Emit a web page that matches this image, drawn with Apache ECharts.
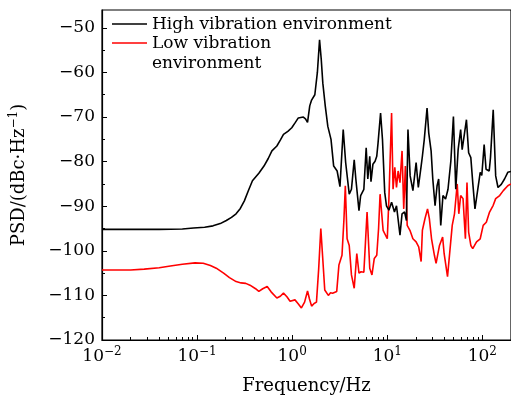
<!DOCTYPE html>
<html>
<head>
<meta charset="utf-8">
<script src="https://cdn.jsdelivr.net/npm/echarts@6/dist/echarts.min.js"></script>
<style>
  html, body { margin: 0; padding: 0; background: #fff; }
  #chart { width: 511px; height: 400px; }
</style>
</head>
<body>
<div id="chart"></div>
<script>
// Power spectral density in two vibration environments
const highFreq = [0.01, 0.02, 0.04, 0.07, 0.0917, 0.12, 0.147, 0.175, 0.203, 0.23, 0.257, 0.285, 0.314, 0.345, 0.382, 0.446, 0.505, 0.56, 0.612, 0.69, 0.75, 0.81, 0.9, 0.99, 1.08, 1.16, 1.31, 1.38, 1.45, 1.53, 1.6, 1.73, 1.84, 1.94, 2.02, 2.1, 2.23, 2.37, 2.56, 2.73, 2.97, 3.18, 3.44, 3.65, 3.98, 4.2, 4.49, 4.67, 5.04, 5.25, 5.45, 5.67, 6.0, 6.24, 6.54, 6.74, 7.06, 7.44, 7.75, 8.0, 8.5, 8.9, 9.4, 9.8, 10.4, 11.1, 11.9, 12.5, 13.6, 14.3, 15.2, 15.9, 16.5, 17.4, 18.6, 20.1, 21.2, 22.7, 23.4, 24.5, 26.2, 27.3, 28.9, 30.1, 31.8, 33.4, 34.7, 36.5, 38.5, 41, 43.5, 46.6, 49.6, 52.5, 55.6, 59.1, 61.3, 64.9, 68, 71.7, 75.6, 79.2, 83.6, 86.8, 94.9, 98.6, 104.4, 109.3, 118, 121.7, 130, 138, 146, 158, 171, 185, 200];
const highPsd = [-95.2, -95.2, -95.2, -95.1, -94.9, -94.7, -94.4, -93.9, -93.2, -92.5, -91.7, -90.5, -88.8, -86.6, -84.3, -82.6, -81.0, -79.3, -77.6, -76.5, -75.2, -73.9, -73.2, -72.4, -71.2, -70.2, -70.0, -70.4, -71.2, -67.5, -66.2, -65.0, -60.0, -52.7, -57.0, -62.4, -67.6, -72.1, -75.0, -81.0, -82.1, -85.6, -72.8, -80.2, -87.3, -86.2, -79.6, -83.9, -91.0, -87.6, -87.6, -86.2, -76.9, -83.9, -78.8, -84.5, -80.6, -79.9, -78.8, -75.8, -69.1, -75.0, -86.9, -89.9, -90.9, -89.1, -91.3, -89.9, -96.5, -91.7, -91.3, -93.2, -72.8, -83.2, -86.5, -80.2, -85.8, -81.0, -78.8, -75.0, -68.0, -73.6, -77.6, -83.9, -89.9, -85.4, -83.9, -94.3, -87.6, -88.4, -86.2, -79.9, -69.9, -86.2, -77.3, -72.8, -77.3, -73.6, -70.6, -78.0, -79.1, -84.7, -90.6, -90.6, -82.4, -83.1, -76.2, -81.7, -82.1, -79.1, -68.4, -83.2, -85.8, -85.1, -83.9, -82.4, -82.2];

const lowFreq = [0.01, 0.02, 0.0278, 0.04, 0.0524, 0.07, 0.095, 0.116, 0.138, 0.159, 0.19, 0.219, 0.257, 0.29, 0.325, 0.36, 0.412, 0.446, 0.49, 0.546, 0.6, 0.69, 0.75, 0.81, 0.88, 0.95, 1.07, 1.15, 1.25, 1.35, 1.45, 1.52, 1.6, 1.7, 1.8, 1.9, 2.0, 2.1, 2.2, 2.4, 2.53, 2.66, 2.76, 2.94, 3.1, 3.34, 3.5, 3.62, 3.78, 3.98, 4.2, 4.49, 4.78, 5.04, 5.3, 5.67, 5.9, 6.13, 6.54, 6.9, 7.3, 7.75, 8.1, 8.4, 9.04, 9.4, 10.0, 10.4, 11.1, 11.5, 12.0, 12.5, 13.0, 13.6, 14.3, 14.9, 15.5, 16.2, 17.3, 18.6, 20.1, 21.4, 22.7, 23.4, 24.9, 26.5, 27.7, 29.2, 31.3, 32.6, 35.4, 38.2, 39.6, 43, 48.2, 50.9, 54.4, 56.5, 59.1, 62.6, 66.3, 68.9, 71.7, 75.6, 79.2, 86.8, 94.9, 102, 110, 119, 130, 138, 152, 166, 185, 200];
const lowPsd = [-104.3, -104.3, -104.1, -103.8, -103.4, -103.0, -102.7, -102.8, -103.3, -103.9, -105.0, -106.0, -106.9, -107.2, -107.3, -107.7, -108.5, -109.1, -108.5, -108.0, -109.2, -110.6, -110.2, -109.5, -110.3, -111.3, -111.0, -111.8, -112.8, -111.5, -109.0, -110.8, -112.4, -111.8, -111.5, -104.0, -95.0, -102.0, -108.8, -110.0, -109.4, -109.5, -109.1, -109.1, -103.2, -101.0, -93.0, -85.4, -97.3, -98.8, -105.4, -108.4, -100.6, -105.0, -104.7, -104.8, -98.0, -91.3, -103.9, -105.4, -101.7, -101.0, -95.0, -87.3, -95.4, -95.8, -97.3, -88.4, -69.1, -86.2, -81.3, -85.8, -82.1, -84.7, -77.6, -90.6, -81.0, -94.3, -95.4, -97.3, -98.0, -99.1, -102.4, -95.4, -92.8, -90.6, -92.8, -97.3, -101.0, -102.8, -98.8, -96.9, -100.6, -105.8, -94.3, -91.7, -85.0, -91.7, -87.6, -88.3, -97.3, -84.7, -95.8, -98.8, -99.5, -98.0, -97.3, -94.3, -93.6, -91.3, -89.8, -88.3, -87.6, -86.5, -85.4, -85.0];

const seriesNames = ['High vibration environment', 'Low vibration\nenvironment'];
const seriesColors = ['#000000', '#ff0000'];
const xMajorTicks = [0.01, 0.1, 1, 10, 100];
const xMinorTicks = [0.02, 0.03, 0.04, 0.05, 0.06, 0.07, 0.08, 0.09,
                     0.2, 0.3, 0.4, 0.5, 0.6, 0.7, 0.8, 0.9,
                     2, 3, 4, 5, 6, 7, 8, 9,
                     20, 30, 40, 50, 60, 70, 80, 90];
const yMajorTicks = [-120, -110, -100, -90, -80, -70, -60, -50];
const yMinorTicks = [-115, -105, -95, -85, -75, -65, -55];

const FONT = '"DejaVu Serif", "Liberation Serif", serif';
const MINUS = '\u2212';

function pairs(xs, ys) {
  return xs.map((x, i) => [x, ys[i]]);
}

const chart = echarts.init(document.getElementById('chart'), null, { renderer: 'canvas' });

const xRange = { min: 0.01, max: 200 };
const yRange = { min: -120, max: -46 };

// Key in the upper-left corner of the plot: a line sample followed by its label
const keyLeft = 112, keyLineLen = 35, keyRows = [24, 43];
const keyItems = [];
seriesNames.forEach((name, i) => {
  keyItems.push({
    type: 'line', silent: true,
    shape: { x1: keyLeft, y1: keyRows[i], x2: keyLeft + keyLineLen, y2: keyRows[i] },
    style: { stroke: seriesColors[i], lineWidth: 1.6 }
  });
  keyItems.push({
    type: 'text', silent: true,
    x: keyLeft + keyLineLen + 5, y: keyRows[i] - 9,
    style: {
      text: name, fill: '#000', font: '17px ' + FONT,
      lineHeight: 20, verticalAlign: 'top', align: 'left'
    }
  });
});

chart.setOption({
  animation: false,
  backgroundColor: '#fff',
  textStyle: { fontFamily: FONT, color: '#000' },
  grid: {
    left: 97, top: 10, right: -2, bottom: 58,
    show: true, borderColor: '#000', borderWidth: 1.2, backgroundColor: 'transparent'
  },
  graphic: keyItems,
  xAxis: [
    {
      type: 'log', logBase: 10, min: xRange.min, max: xRange.max,
      name: 'Frequency/Hz', nameLocation: 'middle', nameGap: 37,
      nameTextStyle: { fontFamily: FONT, fontSize: 18, color: '#000' },
      axisLine: { show: true, lineStyle: { color: '#000', width: 1.2 } },
      axisTick: { show: true, inside: true, length: 5, customValues: xMajorTicks, lineStyle: { color: '#000', width: 1 } },
      splitLine: { show: false },
      axisLabel: {
        customValues: xMajorTicks, margin: 6, color: '#000',
        formatter: function (v) {
          const e = Math.round(Math.log10(v));
          return '{b|10}{s|' + (e < 0 ? MINUS + (-e) : e) + '}';
        },
        rich: {
          b: { fontFamily: FONT, fontSize: 17, color: '#000' },
          s: { fontFamily: FONT, fontSize: 12, color: '#000', padding: [0, 0, 10, 0] }
        }
      }
    },
    {
      type: 'log', logBase: 10, min: xRange.min, max: xRange.max, position: 'bottom',
      axisLine: { show: false },
      axisTick: { show: true, inside: true, length: 3, customValues: xMinorTicks, lineStyle: { color: '#000', width: 1 } },
      axisLabel: { show: false },
      splitLine: { show: false }
    }
  ],
  yAxis: [
    {
      type: 'value', min: yRange.min, max: yRange.max, position: 'left',
      name: 'PSD/(dBc·Hz{sup|' + MINUS + '1})', nameLocation: 'middle', nameGap: 72, nameRotate: 90,
      nameTextStyle: {
        fontFamily: FONT, fontSize: 18, color: '#000',
        rich: { sup: { fontFamily: FONT, fontSize: 12, color: '#000', padding: [0, 0, 10, 0] } }
      },
      axisLine: { show: true, lineStyle: { color: '#000', width: 1.2 } },
      axisTick: { show: true, inside: true, length: 5, customValues: yMajorTicks, lineStyle: { color: '#000', width: 1 } },
      splitLine: { show: false },
      axisLabel: {
        customValues: yMajorTicks, margin: 7, color: '#000',
        fontFamily: FONT, fontSize: 17,
        formatter: function (v) { return v < 0 ? MINUS + (-v) : String(v); }
      }
    },
    {
      type: 'value', min: yRange.min, max: yRange.max, position: 'left',
      axisLine: { show: false },
      axisTick: { show: true, inside: true, length: 3, customValues: yMinorTicks, lineStyle: { color: '#000', width: 1 } },
      axisLabel: { show: false },
      splitLine: { show: false }
    }
  ],
  series: [
    {
      name: seriesNames[0], type: 'line', xAxisIndex: 0, yAxisIndex: 0,
      data: pairs(highFreq, highPsd), symbol: 'none', smooth: false,
      lineStyle: { color: seriesColors[0], width: 1.6 }, itemStyle: { color: seriesColors[0] }, z: 3
    },
    {
      name: seriesNames[1], type: 'line', xAxisIndex: 0, yAxisIndex: 0,
      data: pairs(lowFreq, lowPsd), symbol: 'none', smooth: false,
      lineStyle: { color: seriesColors[1], width: 1.6 }, itemStyle: { color: seriesColors[1] }, z: 2
    }
  ]
});
</script>
</body>
</html>
